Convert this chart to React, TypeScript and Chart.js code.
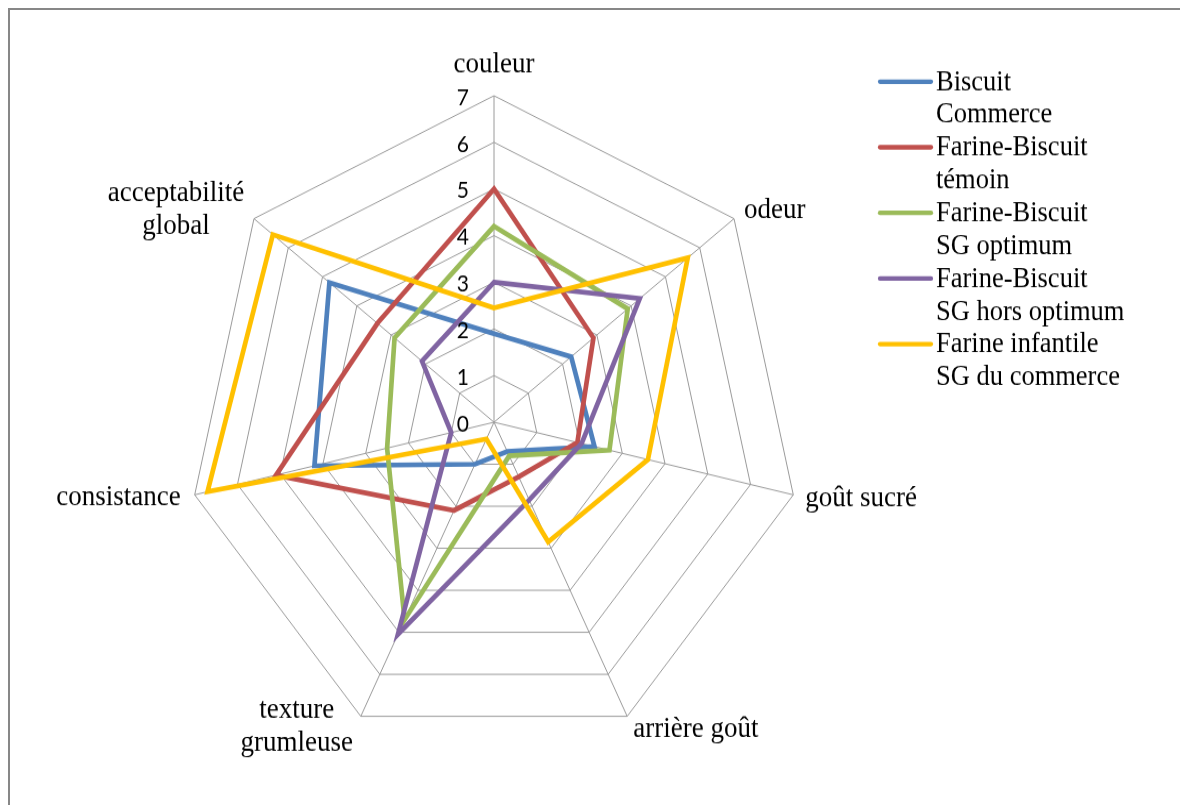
import React, { useEffect, useRef } from 'react';
import { Chart, registerables } from 'chart.js';

Chart.register(...registerables);

// Sensory attributes (axes of the radar)
const categories: (string | string[])[] = [
  'couleur',
  'odeur',
  'goût sucré',
  'arrière goût',
  ['texture', 'grumleuse'],
  'consistance',
  ['acceptabilité', 'global'],
];

const tickValues = [0, 1, 2, 3, 4, 5, 6, 7];

// Mean panel scores per product
const biscuitCommerce = [1.9, 2.25, 2.35, 0.7, 1.0, 4.2, 4.8];
const farineBiscuitTemoin = [5.0, 2.9, 1.95, 1.3, 2.1, 5.1, 3.4];
const farineBiscuitSgOptimum = [4.2, 3.9, 2.7, 0.8, 4.7, 2.5, 2.9];
const farineBiscuitSgHorsOptimum = [3.0, 4.25, 2.05, 1.85, 5.05, 1.0, 2.1];
const farineInfantileSgCommerce = [2.45, 5.65, 3.6, 2.85, 0.4, 6.7, 6.45];

const seriesNames: string[][] = [
  ['Biscuit', 'Commerce'],
  ['Farine-Biscuit', 'témoin'],
  ['Farine-Biscuit', 'SG optimum'],
  ['Farine-Biscuit', 'SG hors optimum'],
  ['Farine infantile', 'SG du commerce'],
];
const seriesValues = [
  biscuitCommerce,
  farineBiscuitTemoin,
  farineBiscuitSgOptimum,
  farineBiscuitSgHorsOptimum,
  farineInfantileSgCommerce,
];
const seriesColors = ['#4F81BD', '#C0504D', '#9BBB59', '#8064A2', '#FFC000'];

// Canvas geometry: drawn at a reduced height and stretched vertically
const CANVAS_W = 1180;
const CANVAS_H = 757;
const Y_STRETCH = 805 / CANVAS_H;

const SERIF = '"Liberation Serif", "Times New Roman", serif';
const SANS = 'Lato, "Noto Sans", sans-serif';

// Where each axis title sits relative to its outer vertex
const labelPlacement: { align: CanvasTextAlign; dx: number; dy: number }[] = [
  { align: 'center', dx: 0, dy: -22 },
  { align: 'left', dx: 10, dy: -1 },
  { align: 'left', dx: 12, dy: 11 },
  { align: 'left', dx: 6, dy: 19 },
  { align: 'center', dx: -64, dy: 1 },
  { align: 'right', dx: -14, dy: 10 },
  { align: 'center', dx: -78, dy: -17 },
];

const annotations = {
  id: 'radarAnnotations',
  afterDraw(chart: any) {
    const ctx: CanvasRenderingContext2D = chart.ctx;
    const scale = chart.scales.r;
    ctx.save();

    // Tick values along the vertical axis, left of it
    ctx.fillStyle = '#000';
    ctx.font = `21px ${SANS}`;
    ctx.textAlign = 'right';
    ctx.textBaseline = 'middle';
    tickValues.forEach((v) => {
      const d = scale.getDistanceFromCenterForValue(v);
      ctx.fillText(String(v), scale.xCenter - 25, scale.yCenter - d + 2);
    });

    // Axis titles
    ctx.font = `27px ${SERIF}`;
    ctx.textBaseline = 'alphabetic';
    const labels = chart.data.labels as (string | string[])[];
    labels.forEach((lab, i) => {
      const p = scale.getPointPosition(i, scale.drawingArea);
      const pl = labelPlacement[i];
      const lines = Array.isArray(lab) ? lab : [lab];
      ctx.textAlign = pl.align;
      lines.forEach((t, k) => {
        ctx.fillText(t, p.x + pl.dx, p.y + pl.dy + k * 31.5);
      });
    });

    // Legend
    const lx0 = 880;
    const lx1 = 931;
    const ly0 = 76.8;
    const step = 61.7;
    ctx.font = `26.5px ${SERIF}`;
    ctx.textAlign = 'left';
    chart.data.datasets.forEach((ds: any, i: number) => {
      const y = ly0 + i * step;
      ctx.strokeStyle = ds.borderColor;
      ctx.lineWidth = 4.3;
      ctx.lineCap = 'round';
      ctx.beginPath();
      ctx.moveTo(lx0, y);
      ctx.lineTo(lx1, y);
      ctx.stroke();
      seriesNames[i].forEach((t, k) => {
        ctx.fillText(t, 936, y + 7.8 + k * 30.8);
      });
    });

    ctx.restore();
  },
};

export default function App() {
  const canvasRef = useRef<HTMLCanvasElement | null>(null);

  useEffect(() => {
    if (!canvasRef.current) return;
    const chart = new Chart(canvasRef.current, {
      type: 'radar',
      data: {
        labels: categories as any,
        datasets: seriesValues.map((vals, i) => ({
          label: seriesNames[i].join(' '),
          data: vals,
          borderColor: seriesColors[i],
          backgroundColor: seriesColors[i],
          borderWidth: 4.7,
          fill: false,
          pointRadius: 0,
          pointHoverRadius: 0,
          tension: 0,
          order: seriesValues.length - 1 - i,
        })),
      },
      options: {
        responsive: false,
        maintainAspectRatio: false,
        animation: false,
        layout: {
          padding: { left: 187, right: 378, top: 90, bottom: 52 },
        },
        plugins: {
          legend: { display: false },
          tooltip: { enabled: false },
        },
        scales: {
          r: {
            min: 0,
            max: 7,
            beginAtZero: true,
            ticks: { stepSize: 1, display: false },
            grid: { color: '#9a9a9a', lineWidth: 1, circular: false },
            angleLines: { color: '#9a9a9a', lineWidth: 1 },
            pointLabels: { display: false },
          },
        },
      },
      plugins: [annotations],
    });
    return () => chart.destroy();
  }, []);

  return (
    <>
      <div
        style={{
          position: 'fixed',
          left: 8,
          top: 8,
          width: 1172,
          height: 797,
          boxSizing: 'border-box',
          borderTop: '2px solid #878787',
          borderLeft: '2px solid #878787',
          background: '#fff',
        }}
      />
      <div
        style={{
          position: 'fixed',
          left: 0,
          top: 0,
          width: CANVAS_W,
          height: 805,
          overflow: 'hidden',
        }}
      >
        <div
          style={{
            width: CANVAS_W,
            height: CANVAS_H,
            transform: `scaleY(${Y_STRETCH})`,
            transformOrigin: '0 0',
          }}
        >
          <canvas
            ref={canvasRef}
            width={CANVAS_W}
            height={CANVAS_H}
            style={{ display: 'block' }}
          />
        </div>
      </div>
    </>
  );
}
